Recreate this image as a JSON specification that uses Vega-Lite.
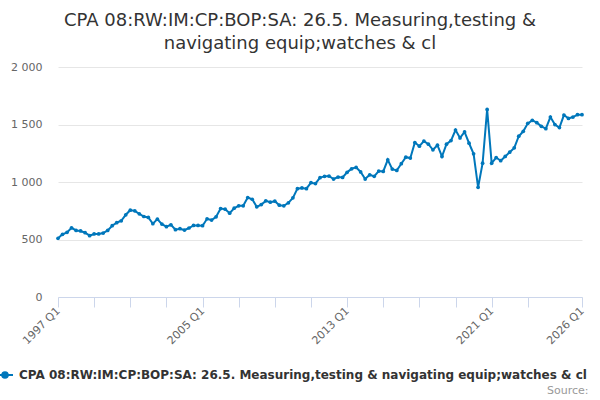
{
  "$schema": "https://vega.github.io/schema/vega-lite/v6.json",
  "width": 524,
  "height": 230,
  "autosize": "none",
  "padding": {"left": 58, "top": 67, "right": 18, "bottom": 103},
  "background": "white",
  "title": {
    "text": ["CPA 08:RW:IM:CP:BOP:SA: 26.5. Measuring,testing &", "navigating equip;watches & cl"],
    "anchor": "middle",
    "dx": -20,
    "offset": 8,
    "fontSize": 18,
    "fontWeight": "normal",
    "font": "DejaVu Sans",
    "color": "#333333",
    "lineHeight": 23
  },
  "data": {
    "values": [
      {"quarter": "1997 Q1", "value": 510}, {"quarter": "1997 Q2", "value": 545}, {"quarter": "1997 Q3", "value": 562}, {"quarter": "1997 Q4", "value": 602},
      {"quarter": "1998 Q1", "value": 579}, {"quarter": "1998 Q2", "value": 574}, {"quarter": "1998 Q3", "value": 559}, {"quarter": "1998 Q4", "value": 533},
      {"quarter": "1999 Q1", "value": 548}, {"quarter": "1999 Q2", "value": 548}, {"quarter": "1999 Q3", "value": 556}, {"quarter": "1999 Q4", "value": 579},
      {"quarter": "2000 Q1", "value": 620}, {"quarter": "2000 Q2", "value": 646}, {"quarter": "2000 Q3", "value": 663}, {"quarter": "2000 Q4", "value": 715},
      {"quarter": "2001 Q1", "value": 755}, {"quarter": "2001 Q2", "value": 749}, {"quarter": "2001 Q3", "value": 723}, {"quarter": "2001 Q4", "value": 700},
      {"quarter": "2002 Q1", "value": 692}, {"quarter": "2002 Q2", "value": 637}, {"quarter": "2002 Q3", "value": 677}, {"quarter": "2002 Q4", "value": 634},
      {"quarter": "2003 Q1", "value": 611}, {"quarter": "2003 Q2", "value": 628}, {"quarter": "2003 Q3", "value": 585}, {"quarter": "2003 Q4", "value": 594},
      {"quarter": "2004 Q1", "value": 582}, {"quarter": "2004 Q2", "value": 600}, {"quarter": "2004 Q3", "value": 622}, {"quarter": "2004 Q4", "value": 622},
      {"quarter": "2005 Q1", "value": 620}, {"quarter": "2005 Q2", "value": 680}, {"quarter": "2005 Q3", "value": 669}, {"quarter": "2005 Q4", "value": 697},
      {"quarter": "2006 Q1", "value": 769}, {"quarter": "2006 Q2", "value": 764}, {"quarter": "2006 Q3", "value": 729}, {"quarter": "2006 Q4", "value": 772},
      {"quarter": "2007 Q1", "value": 793}, {"quarter": "2007 Q2", "value": 793}, {"quarter": "2007 Q3", "value": 865}, {"quarter": "2007 Q4", "value": 850},
      {"quarter": "2008 Q1", "value": 784}, {"quarter": "2008 Q2", "value": 804}, {"quarter": "2008 Q3", "value": 836}, {"quarter": "2008 Q4", "value": 824},
      {"quarter": "2009 Q1", "value": 833}, {"quarter": "2009 Q2", "value": 798}, {"quarter": "2009 Q3", "value": 793}, {"quarter": "2009 Q4", "value": 819},
      {"quarter": "2010 Q1", "value": 862}, {"quarter": "2010 Q2", "value": 942}, {"quarter": "2010 Q3", "value": 948}, {"quarter": "2010 Q4", "value": 942},
      {"quarter": "2011 Q1", "value": 994}, {"quarter": "2011 Q2", "value": 986}, {"quarter": "2011 Q3", "value": 1038}, {"quarter": "2011 Q4", "value": 1049},
      {"quarter": "2012 Q1", "value": 1052}, {"quarter": "2012 Q2", "value": 1026}, {"quarter": "2012 Q3", "value": 1043}, {"quarter": "2012 Q4", "value": 1040},
      {"quarter": "2013 Q1", "value": 1084}, {"quarter": "2013 Q2", "value": 1115}, {"quarter": "2013 Q3", "value": 1127}, {"quarter": "2013 Q4", "value": 1087},
      {"quarter": "2014 Q1", "value": 1026}, {"quarter": "2014 Q2", "value": 1063}, {"quarter": "2014 Q3", "value": 1049}, {"quarter": "2014 Q4", "value": 1095},
      {"quarter": "2015 Q1", "value": 1092}, {"quarter": "2015 Q2", "value": 1193}, {"quarter": "2015 Q3", "value": 1112}, {"quarter": "2015 Q4", "value": 1101},
      {"quarter": "2016 Q1", "value": 1159}, {"quarter": "2016 Q2", "value": 1216}, {"quarter": "2016 Q3", "value": 1208}, {"quarter": "2016 Q4", "value": 1343},
      {"quarter": "2017 Q1", "value": 1311}, {"quarter": "2017 Q2", "value": 1355}, {"quarter": "2017 Q3", "value": 1329}, {"quarter": "2017 Q4", "value": 1280},
      {"quarter": "2018 Q1", "value": 1320}, {"quarter": "2018 Q2", "value": 1222}, {"quarter": "2018 Q3", "value": 1329}, {"quarter": "2018 Q4", "value": 1360},
      {"quarter": "2019 Q1", "value": 1452}, {"quarter": "2019 Q2", "value": 1383}, {"quarter": "2019 Q3", "value": 1435}, {"quarter": "2019 Q4", "value": 1337},
      {"quarter": "2020 Q1", "value": 1245}, {"quarter": "2020 Q2", "value": 954}, {"quarter": "2020 Q3", "value": 1164}, {"quarter": "2020 Q4", "value": 1631},
      {"quarter": "2021 Q1", "value": 1164}, {"quarter": "2021 Q2", "value": 1213}, {"quarter": "2021 Q3", "value": 1185}, {"quarter": "2021 Q4", "value": 1222},
      {"quarter": "2022 Q1", "value": 1259}, {"quarter": "2022 Q2", "value": 1297}, {"quarter": "2022 Q3", "value": 1398}, {"quarter": "2022 Q4", "value": 1441},
      {"quarter": "2023 Q1", "value": 1510}, {"quarter": "2023 Q2", "value": 1536}, {"quarter": "2023 Q3", "value": 1516}, {"quarter": "2023 Q4", "value": 1484},
      {"quarter": "2024 Q1", "value": 1464}, {"quarter": "2024 Q2", "value": 1565}, {"quarter": "2024 Q3", "value": 1499}, {"quarter": "2024 Q4", "value": 1473},
      {"quarter": "2025 Q1", "value": 1582}, {"quarter": "2025 Q2", "value": 1553}, {"quarter": "2025 Q3", "value": 1565}, {"quarter": "2025 Q4", "value": 1585},
      {"quarter": "2026 Q1", "value": 1585}
    ]
  },
  "mark": {
    "type": "line",
    "strokeWidth": 2,
    "point": {"filled": true, "size": 14}
  },
  "encoding": {
    "x": {
      "field": "quarter",
      "type": "ordinal",
      "sort": null,
      "scale": {"type": "point", "padding": 0},
      "axis": {
        "values": ["1997 Q1", "1999 Q1", "2001 Q1", "2003 Q1", "2005 Q1", "2007 Q1", "2009 Q1", "2011 Q1", "2013 Q1", "2015 Q1", "2017 Q1", "2019 Q1", "2021 Q1", "2023 Q1", "2026 Q1"],
        "labelExpr": "(datum.value == '1997 Q1' || datum.value == '2005 Q1' || datum.value == '2013 Q1' || datum.value == '2021 Q1' || datum.value == '2026 Q1') ? datum.value : ''",
        "labelAngle": -45,
        "labelAlign": "right",
        "labelBaseline": "middle",
        "labelFont": "DejaVu Sans",
        "labelFontSize": 11,
        "labelColor": "#666666",
        "labelPadding": 2,
        "domainColor": "#ccd6eb",
        "tickColor": "#ccd6eb",
        "tickSize": 10,
        "grid": false,
        "title": "Source:",
        "titleX": 530,
        "titleY": 93,
        "titleAlign": "right",
        "titleBaseline": "middle",
        "titleFont": "DejaVu Sans",
        "titleFontSize": 11,
        "titleFontWeight": "normal",
        "titleColor": "#999999"
      }
    },
    "y": {
      "field": "value",
      "type": "quantitative",
      "scale": {"domain": [0, 2000], "nice": false},
      "axis": {
        "values": [0, 500, 1000, 1500, 2000],
        "labelExpr": "replace(format(datum.value, ','), ',', ' ')",
        "labelFont": "DejaVu Sans",
        "labelFontSize": 11,
        "labelColor": "#666666",
        "labelPadding": 16,
        "domain": false,
        "ticks": false,
        "gridColor": "#e6e6e6",
        "title": null
      }
    },
    "color": {
      "datum": "CPA 08:RW:IM:CP:BOP:SA: 26.5. Measuring,testing & navigating equip;watches & cl",
      "type": "nominal",
      "scale": {"range": ["#0077bb"]},
      "legend": {
        "title": null,
        "orient": "none",
        "legendX": -62,
        "legendY": 299,
        "labelFont": "DejaVu Sans",
        "labelFontSize": 12,
        "labelFontWeight": "bold",
        "labelColor": "#333333",
        "labelLimit": 2000,
        "labelOffset": 5,
        "symbolType": "M-1,0H1M-0.35,0A0.35,0.35 0 1 1 0.35,0A0.35,0.35 0 1 1 -0.35,0Z",
        "symbolSize": 256,
        "symbolStrokeWidth": 2
      }
    }
  },
  "config": {
    "view": {"stroke": null}
  }
}
